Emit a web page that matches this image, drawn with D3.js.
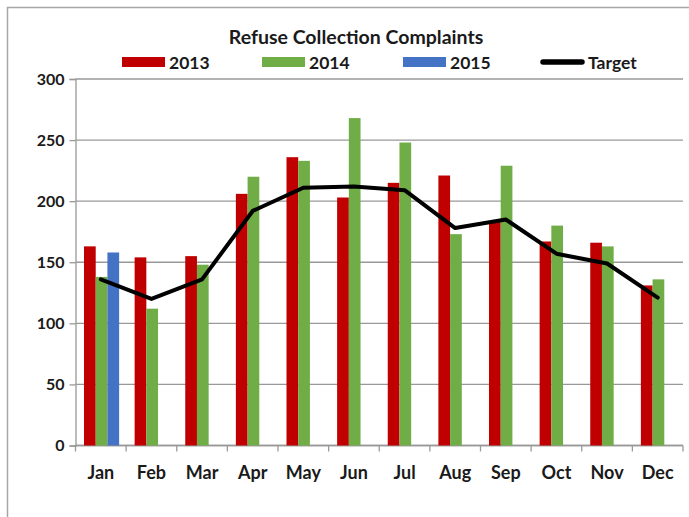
<!DOCTYPE html>
<html>
<head>
<meta charset="utf-8">
<script src="https://cdn.jsdelivr.net/npm/d3@7"></script>
<style>
  body { margin: 0; background: #fff; }
  svg text { font-family: Lato, "Open Sans", sans-serif; fill: #1a1a1a; }
</style>
</head>
<body>
<div id="chart"></div>
<script>
const months = ['Jan', 'Feb', 'Mar', 'Apr', 'May', 'Jun', 'Jul', 'Aug', 'Sep', 'Oct', 'Nov', 'Dec'];
const series = ['2013', '2014', '2015'];
const values2013 = [163, 154, 155, 206, 236, 203, 215, 221, 183, 167, 166, 131];
const values2014 = [138, 112, 148, 220, 233, 268, 248, 173, 229, 180, 163, 136];
const values2015 = [158, null, null, null, null, null, null, null, null, null, null, null];
const target = [136, 120, 136, 192, 211, 212, 209, 178, 185, 157, 149, 121];
const yTicks = [0, 50, 100, 150, 200, 250, 300];

const colors = { '2013': '#C00000', '2014': '#70AD47', '2015': '#4472C4' };

const width = 689;
const height = 517;
const plot = { left: 75.5, right: 683, top: 79, bottom: 445.5 };

const svg = d3.select('#chart')
  .append('svg')
  .attr('width', width)
  .attr('height', height);

// outer chart frame
svg.append('rect')
  .attr('x', 7.5)
  .attr('y', 7.5)
  .attr('width', 720)
  .attr('height', 560)
  .style('fill', 'none')
  .style('stroke', '#a6a6a6')
  .style('stroke-width', 1.5);

const x = d3.scaleBand()
  .domain(months)
  .range([plot.left, plot.right]);

const xInner = d3.scaleBand()
  .domain(series)
  .range([8.5, x.bandwidth() - 7]);

const y = d3.scaleLinear()
  .domain([0, 300])
  .range([plot.bottom, plot.top]);

// gridlines
svg.append('g')
  .selectAll('line')
  .data(yTicks)
  .enter()
    .append('line')
    .attr('x1', plot.left)
    .attr('x2', plot.right)
    .attr('y1', d => y(d))
    .attr('y2', d => y(d))
    .style('stroke', '#999')
    .style('stroke-width', 1.3);

// y axis
const yAxis = svg.append('g')
  .attr('transform', `translate(${plot.left},0)`)
  .call(d3.axisLeft(y).tickValues(yTicks).tickSize(6).tickPadding(5));
yAxis.select('.domain').style('stroke', '#999').style('stroke-width', 1.3);
yAxis.selectAll('.tick line').style('stroke', '#999').style('stroke-width', 1.3);
yAxis.selectAll('.tick text')
  .style('font-size', '16px')
  .style('font-weight', 700)
  .style('fill', '#1a1a1a');

// x axis: labels centred, ticks at category boundaries
const xAxis = svg.append('g')
  .attr('transform', `translate(0,${plot.bottom})`)
  .call(d3.axisBottom(x).tickSize(0).tickPadding(21));
xAxis.select('.domain').remove();
xAxis.selectAll('.tick text')
  .style('font-size', '18px')
  .style('font-weight', 700)
  .style('fill', '#1a1a1a');

svg.append('line')
  .attr('x1', plot.left)
  .attr('x2', plot.right)
  .attr('y1', plot.bottom)
  .attr('y2', plot.bottom)
  .style('stroke', '#999')
  .style('stroke-width', 1.3);

const boundaries = months.map(m => x(m)).concat([plot.right]);
svg.append('g')
  .selectAll('line')
  .data(boundaries)
  .enter()
    .append('line')
    .attr('x1', d => d)
    .attr('x2', d => d)
    .attr('y1', plot.bottom)
    .attr('y2', plot.bottom + 6)
    .style('stroke', '#999')
    .style('stroke-width', 1.3);

// bars
const barData = [];
months.forEach((m, i) => {
  [values2013, values2014, values2015].forEach((vals, j) => {
    if (vals[i] != null) barData.push({ month: m, key: series[j], value: vals[i] });
  });
});

svg.append('g')
  .selectAll('rect')
  .data(barData)
  .enter()
    .append('rect')
    .attr('x', d => x(d.month) + xInner(d.key))
    .attr('y', d => y(d.value))
    .attr('width', xInner.bandwidth())
    .attr('height', d => y(0) - y(d.value))
    .style('fill', d => colors[d.key]);

// target line
const line = d3.line()
  .x((d, i) => x(months[i]) + x.bandwidth() / 2)
  .y(d => y(d));

svg.append('path')
  .attr('d', line(target))
  .style('fill', 'none')
  .style('stroke', '#000')
  .style('stroke-width', 4)
  .style('stroke-linejoin', 'round')
  .style('stroke-linecap', 'round');

// title
svg.append('text')
  .attr('x', 356)
  .attr('y', 44)
  .attr('text-anchor', 'middle')
  .style('font-size', '19.5px')
  .style('font-weight', 700)
  .text('Refuse Collection Complaints');

// legend
const legendItems = [
  { label: '2013', x: 122, type: 'bar', color: colors['2013'] },
  { label: '2014', x: 262, type: 'bar', color: colors['2014'] },
  { label: '2015', x: 403, type: 'bar', color: colors['2015'] },
  { label: 'Target', x: 541, type: 'line', color: '#000' }
];
const legendY = 62;

const legend = svg.append('g')
  .selectAll('g')
  .data(legendItems)
  .enter()
    .append('g')
    .attr('transform', d => `translate(${d.x},${legendY})`);

legend.filter(d => d.type === 'bar')
  .append('rect')
  .attr('x', 0)
  .attr('y', -5)
  .attr('width', 43)
  .attr('height', 10)
  .style('fill', d => d.color);

legend.filter(d => d.type === 'line')
  .append('line')
  .attr('x1', 2)
  .attr('x2', 41)
  .attr('y1', 0)
  .attr('y2', 0)
  .style('stroke', '#000')
  .style('stroke-width', 5.5)
  .style('stroke-linecap', 'round');

legend.append('text')
  .attr('x', 47)
  .attr('y', 6.5)
  .style('font-size', '17.5px')
  .style('font-weight', 700)
  .text(d => d.label);
</script>
</body>
</html>
